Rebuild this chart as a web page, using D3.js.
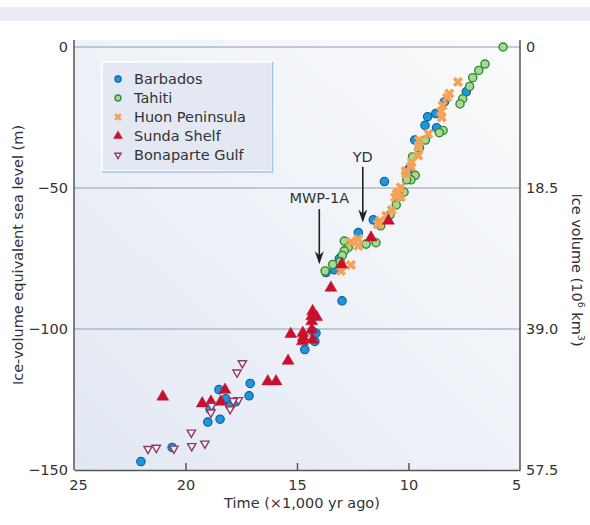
<!DOCTYPE html>
<html>
<head>
<meta charset="utf-8">
<style>
body { margin: 0; background: #fff; }
svg text { font-family: "DejaVu Sans", sans-serif; fill: #333; }
.axis path, .axis line { stroke: #555; }
.grid line { stroke: #8e9db2; stroke-width: 1.2; }
</style>
</head>
<body>
<svg width="590" height="525"></svg>
<script src="https://cdn.jsdelivr.net/npm/d3@7"></script>
<script>
// sea level records: [time in ka, sea level in m]
var barbados = [[22.0,-147],[20.6,-142],[19.0,-133],[18.45,-132],[18.9,-128.5],[18.5,-121.5],[18.2,-124.7],
  [18.0,-127.3],[17.75,-125.8],[17.15,-123.7],[17.1,-119.3],[14.65,-107.3],[14.3,-100.8],[14.15,-101.5],
  [14.2,-104.4],[12.98,-90],[13.7,-80],[13.33,-79],[13.1,-75],[12.25,-65.8],[11.58,-61.3],[11.08,-47.7],
  [9.98,-43.3],[9.72,-33],[9.26,-27.8],[9.14,-24.7],[8.74,-28.6],[8.78,-23.6],[8.39,-19.5],[7.41,-15.9]];
var tahiti = [[5.76,0],[6.57,-6.05],[6.85,-8.3],[7.12,-10.9],[7.26,-14],[7.57,-18.4],[7.69,-20.2],[8.45,-29.6],
  [8.62,-30.4],[9.24,-33],[9.51,-35.8],[9.82,-39],[9.7,-45.5],[9.89,-47.1],[10.08,-47.1],[10.2,-51.5],
  [10.4,-53],[10.55,-56],[10.83,-59.5],[11.25,-63.4],[11.46,-69.4],[11.9,-69.9],[12.88,-68.8],[12.7,-71.1],
  [12.88,-72.3],[12.97,-73.9],[13.06,-76.1],[13.4,-77.1],[13.74,-79.4]];
var huon = [[7.78,-12.4],[8.17,-16.5],[8.27,-17.9],[8.47,-20.8],[8.54,-22.8],[8.51,-25],[9.11,-30.8],[9.53,-33.1],
  [9.56,-35.5],[9.56,-38.5],[9.86,-40.9],[9.9,-42.4],[10.11,-45],[10.13,-44],[10.35,-49.8],[10.46,-51.5],
  [10.53,-52.1],[10.6,-53.3],[10.34,-53.3],[10.75,-57.8],[11.0,-59.8],[11.28,-61.6],[11.38,-62.8],
  [12.25,-68.1],[12.25,-70.5],[12.58,-69.1],[12.58,-77.3],[13.0,-77.7],[13.03,-79.4]];
var sunda = [[21.02,-124],[19.25,-126.4],[18.86,-125.8],[18.42,-125.8],[18.23,-121.6],[16.31,-118.6],[15.94,-118.6],
  [15.4,-111.3],[15.28,-101.8],[14.74,-101.4],[14.76,-104.4],[14.72,-103],[14.3,-93.7],[14.34,-95.5],[14.12,-95.8],
  [14.34,-97.3],[14.34,-100.2],[14.3,-103.8],[13.48,-85.4],[13.0,-77.1],[11.68,-67.6],[10.9,-61.6]];
var bonaparte = [[17.45,-112.1],[17.69,-115.4],[17.63,-125.2],[17.86,-125.5],[18.0,-128.4],[18.83,-127.2],
  [18.86,-129.6],[19.74,-136.7],[19.13,-140.6],[19.72,-141.5],[20.52,-142.4],[21.31,-142.1],[21.68,-142.5]];

var timeTicks = [25, 20, 15, 10, 5];
var seaTicks = [0, -50, -100, -150];
var iceLabels = ["0", "18.5", "39.0", "57.5"];
var names = ["Barbados", "Tahiti", "Huon Peninsula", "Sunda Shelf", "Bonaparte Gulf"];
var notes = [{label: "MWP-1A", t: 14.0, top: -57.5, tip: -77, text: -53.5},
             {label: "YD", t: 12.05, top: -42.5, tip: -62.2, text: -39}];

var svg = d3.select("svg");
var x = d3.scaleLinear().domain([25, 5]).range([74, 520]);
var y = d3.scaleLinear().domain([0, -150]).range([47, 470]);

// top band
svg.append("rect").attr("x", 0).attr("y", 7).attr("width", 590).attr("height", 14).attr("fill", "#ebebf5");

// plot background
var grad = svg.append("defs").append("linearGradient").attr("id", "bg")
  .attr("x1", "100%").attr("y1", "0%").attr("x2", "0%").attr("y2", "100%");
grad.append("stop").attr("offset", "0%").attr("stop-color", "#fafbfc");
grad.append("stop").attr("offset", "100%").attr("stop-color", "#e2e8f3");
svg.append("rect").attr("x", x(25)).attr("y", 40).attr("width", x(5) - x(25)).attr("height", y(-150) - 40)
  .attr("fill", "url(#bg)");

// gridlines
svg.append("g").attr("class", "grid").selectAll("line").data([0, -50, -100]).enter().append("line")
  .attr("x1", x(25)).attr("x2", x(5)).attr("y1", d => y(d)).attr("y2", d => y(d));

// axes
var bottom = svg.append("g").attr("class", "axis").attr("transform", "translate(0," + y(-150) + ")")
  .call(d3.axisBottom(x).tickValues(timeTicks).tickSizeInner(-7).tickSizeOuter(0).tickPadding(10));
bottom.select(".domain").attr("stroke-width", 1.5);
bottom.selectAll(".tick line").attr("stroke", "#777").attr("stroke-width", 1.5)
  .attr("visibility", d => (d == 25 || d == 5) ? "hidden" : null);
bottom.selectAll("text").attr("font-size", 14.5).attr("fill", "#333")
  .attr("dx", d => d == 25 ? 4 : d == 5 ? -4 : 0);

var left = svg.append("g").attr("class", "axis").attr("transform", "translate(" + x(25) + ",0)")
  .call(d3.axisLeft(y).tickValues(seaTicks).tickSize(0).tickPadding(6).tickFormat(d => d == 0 ? "0" : "\u2212" + (-d)));
left.select(".domain").attr("d", "M0,40V" + y(-150)).attr("stroke-width", 1.5);
left.selectAll("text").attr("font-size", 14.5).attr("fill", "#333");

var right = svg.append("g").attr("class", "axis").attr("transform", "translate(" + x(5) + ",0)")
  .call(d3.axisRight(y).tickValues(seaTicks).tickSize(0).tickPadding(6).tickFormat((d, i) => iceLabels[i]));
right.select(".domain").attr("d", "M0,40V" + y(-150)).attr("stroke", "#888").attr("stroke-width", 1.5);
right.selectAll("text").attr("font-size", 14.5).attr("fill", "#333");

// axis titles
svg.append("text").attr("x", 302).attr("y", 508).attr("text-anchor", "middle").attr("font-size", 14.5)
  .text("Time (\u00d71,000 yr ago)");
svg.append("text").attr("transform", "translate(23,255) rotate(-90)").attr("text-anchor", "middle")
  .attr("font-size", 14.5).text("Ice-volume equivalent sea level (m)");
var rt = svg.append("text").attr("transform", "translate(572,270) rotate(90)").attr("text-anchor", "middle")
  .attr("font-size", 14.5);
rt.append("tspan").text("Ice volume (10");
rt.append("tspan").attr("font-size", 9.5).attr("dy", -6).text("6");
rt.append("tspan").attr("dy", 6).text(" km");
rt.append("tspan").attr("font-size", 9.5).attr("dy", -6).text("3");
rt.append("tspan").attr("dy", 6).text(")");

// markers
var sym = d3.symbol();
var styles = [
  {data: barbados, shape: d3.symbolCircle, size: 56, fill: "#1a98df", stroke: "#0c5a99", sw: 1.1, rot: 0},
  {data: tahiti, shape: d3.symbolCircle, size: 52, fill: "#a8d98c", stroke: "#2b8a3c", sw: 1.4, rot: 0},
  {data: huon, shape: d3.symbolCross, size: 66, fill: "#f5a259", stroke: "none", sw: 0, rot: 45},
  {data: sunda, shape: d3.symbolTriangle, size: 62, fill: "#c8102e", stroke: "#c8102e", sw: 0.5, rot: 0},
  {data: bonaparte, shape: d3.symbolTriangle, size: 30, fill: "#fbf4f7", stroke: "#8e3b66", sw: 1.4, rot: 180}
];
styles.forEach(function(s) {
  svg.append("g").selectAll("path").data(s.data).enter().append("path")
    .attr("d", sym.type(s.shape).size(s.size)())
    .attr("transform", d => "translate(" + x(d[0]) + "," + y(d[1]) + ") rotate(" + s.rot + ")")
    .attr("fill", s.fill).attr("stroke", s.stroke).attr("stroke-width", s.sw);
});

// arrows
var ann = svg.append("g").selectAll("g").data(notes).enter().append("g");
ann.append("line").attr("x1", d => x(d.t)).attr("x2", d => x(d.t))
  .attr("y1", d => y(d.top)).attr("y2", d => y(d.tip) - 2).attr("stroke", "#222").attr("stroke-width", 1.6);
ann.append("path").attr("d", d => "M" + (x(d.t) - 4.5) + "," + (y(d.tip) - 13) + "L" + x(d.t) + "," + y(d.tip)
  + "L" + (x(d.t) + 4.5) + "," + (y(d.tip) - 13) + "L" + x(d.t) + "," + (y(d.tip) - 9) + "Z").attr("fill", "#222");
ann.append("text").attr("x", d => x(d.t)).attr("y", d => y(d.text)).attr("dy", "0.35em")
  .attr("text-anchor", "middle").attr("font-size", 14.5).text(d => d.label);

// legend
var lg = svg.append("g").attr("transform", "translate(102,62)");
lg.append("rect").attr("width", 170).attr("height", 109).attr("fill", "#e3e8f2").attr("stroke", "#fff").attr("stroke-width", 1.5);
lg.append("path").attr("d", "M170.5,0V110H0").attr("fill", "none").attr("stroke", "#a3c4e6").attr("stroke-width", 1.5);
var items = lg.selectAll("g").data(names).enter().append("g")
  .attr("transform", (d, i) => "translate(0," + (17 + i * 19) + ")");
items.append("path")
  .attr("d", (d, i) => sym.type(styles[i].shape).size(styles[i].size * 0.55)())
  .attr("transform", (d, i) => "translate(16,0) rotate(" + styles[i].rot + ")")
  .attr("fill", (d, i) => styles[i].fill).attr("stroke", (d, i) => styles[i].stroke)
  .attr("stroke-width", (d, i) => styles[i].sw);
items.append("text").attr("x", 32).attr("dy", "0.35em").attr("font-size", 14.5).text(d => d);
</script>
</body>
</html>
